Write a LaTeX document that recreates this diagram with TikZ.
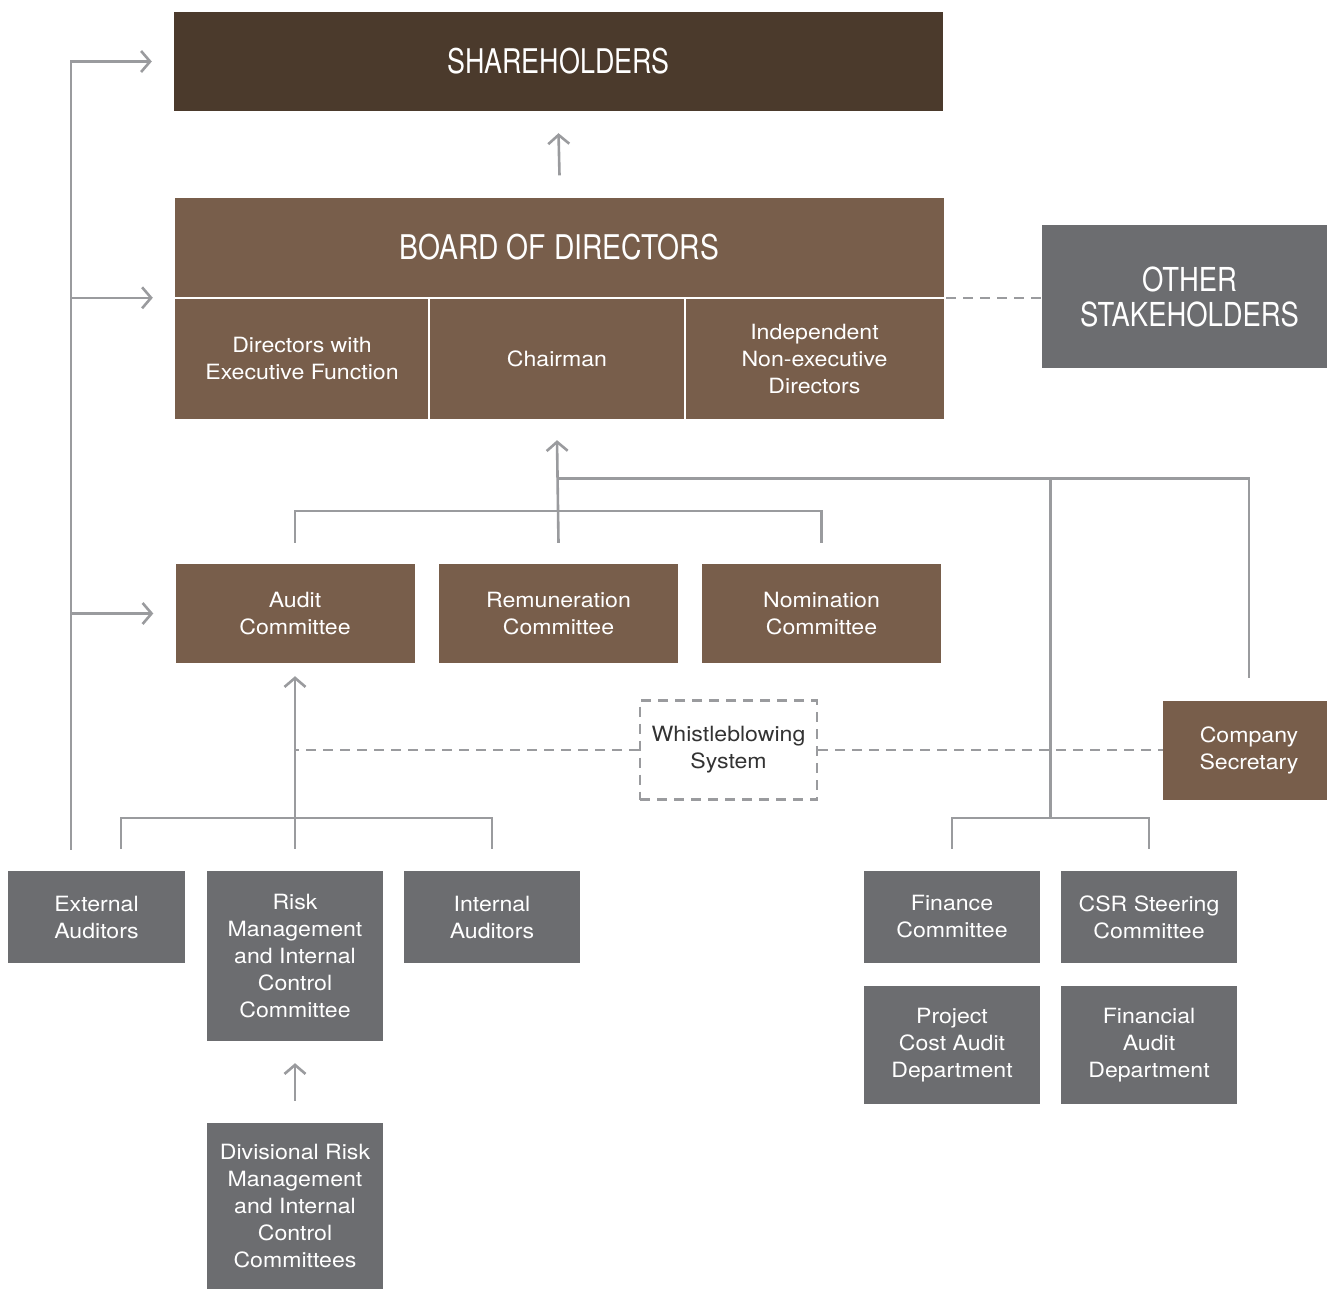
\documentclass[tikz,border=0pt]{standalone}
\usepackage{fontspec}
\setmainfont{TeX Gyre Heros}
\newfontfamily\condf[FakeStretch=0.79]{TeX Gyre Heros}
\newfontfamily\condg[FakeStretch=0.83]{TeX Gyre Heros}
\newfontfamily\widef[FakeStretch=1.1]{TeX Gyre Heros}
\usetikzlibrary{arrows.meta,calc}
\definecolor{darkbrown}{HTML}{4B3A2C}
\definecolor{midbrown}{HTML}{785E4B}
\definecolor{boxgray}{HTML}{6C6D70}
\definecolor{linegray}{HTML}{9A9B9E}
\definecolor{txtgray}{HTML}{333333}
\tikzset{
  box/.style={rectangle, inner sep=0pt, align=center, text=white,
    font=\widef\fontsize{21}{27}\selectfont},
  brownbox/.style={box, fill=midbrown},
  graybox/.style={box, fill=boxgray},
  headbox/.style={rectangle, inner sep=0pt, align=center, text=white,
    font=\condf\fontsize{34}{35}\selectfont},
  conn/.style={draw=linegray, line width=2.6pt},
  arr/.style={conn, -{Straight Barb[length=9pt,width=21pt]}},
  dashconn/.style={draw=linegray, line width=2.4pt, dash pattern=on 10pt off 7pt},
}
\begin{document}
\begin{tikzpicture}[x=1pt,y=-1pt]
\useasboundingbox (0,0) rectangle (1327,1288);

% top
\node[headbox, fill=darkbrown, minimum width=769pt, minimum height=99pt] (sh) at (558.5,61.5) {SHAREHOLDERS};
\node[headbox, fill=midbrown, minimum width=769pt, minimum height=100pt, font=\condg\fontsize{34}{35}\selectfont] (bod) at (559.5,247.5) {BOARD OF DIRECTORS};
\node[brownbox, minimum width=254pt, minimum height=121pt] (c1) at (302,358.5) {Directors with\\Executive Function};
\node[brownbox, minimum width=256pt, minimum height=121pt] (c2) at (557,358.5) {Chairman};
\node[brownbox, minimum width=259pt, minimum height=121pt] (c3) at (814.5,358.5) {Independent\\Non-executive\\Directors};
\draw[white, line width=2pt] (c1.north west) -- (c3.north east);
\draw[white, line width=2.5pt] (c1.north east) -- (c1.south east);
\draw[white, line width=2.5pt] (c2.north east) -- (c2.south east);

\node[headbox, fill=boxgray, minimum width=295pt, minimum height=143pt, font=\condg\fontsize{33}{35}\selectfont] (os) at (1189.5,296.5) {OTHER\\STAKEHOLDERS};

% committees
\node[brownbox, minimum width=239pt, minimum height=99pt] (audit) at (295,613.5) {Audit\\Committee};
\node[brownbox, minimum width=239pt, minimum height=99pt] (rem) at (558.5,613.5) {Remuneration\\Committee};
\node[brownbox, minimum width=239pt, minimum height=99pt] (nom) at (821.5,613.5) {Nomination\\Committee};

\node[box, text=txtgray, minimum width=177pt, minimum height=99pt, draw=linegray, line width=2.4pt, dash pattern=on 10pt off 7pt] (wb) at (728.5,750) {Whistleblowing\\System};
\node[brownbox, minimum width=172pt, minimum height=99pt] (cosec) at (1249,750) {Company\\Secretary};

% lower
\node[graybox, minimum width=177pt, minimum height=92pt] (ext) at (96.5,917) {External\\Auditors};
\node[graybox, minimum width=176pt, minimum height=170pt] (risk) at (295,956) {Risk\\Management\\and Internal\\Control\\Committee};
\node[graybox, minimum width=176pt, minimum height=92pt] (int) at (492,917) {Internal\\Auditors};
\node[graybox, minimum width=176pt, minimum height=167pt] (div) at (295,1206.5) {Divisional Risk\\Management\\and Internal\\Control\\Committees};

\node[graybox, minimum width=176pt, minimum height=92pt] (fin) at (952,917) {Finance\\Committee};
\node[graybox, minimum width=176pt, minimum height=92pt] (csr) at (1149,917) {CSR Steering\\Committee};
\node[graybox, minimum width=176pt, minimum height=118pt] (pca) at (952,1045) {Project\\Cost Audit\\Department};
\node[graybox, minimum width=176pt, minimum height=118pt] (fad) at (1149,1045) {Financial\\Audit\\Department};

% connectors
\draw[arr] ([yshift=22pt]bod.north) -- ([yshift=-22pt]sh.south);

\coordinate (eb) at ([xshift=-25.5pt,yshift=21pt]ext.north);
\draw[arr] (eb) |- ([xshift=-22pt]sh.west);
\draw[arr] (eb |- c1.north west) -- ([xshift=-22pt]c1.north west);
\draw[arr] (eb |- audit.west) -- ([xshift=-22pt]audit.west);

\draw[conn] ([yshift=21pt]audit.north) |- ([yshift=53pt]nom.north) -- ([yshift=21pt]nom.north);
\draw[arr] ([yshift=21pt]rem.north) -- ([yshift=-21pt]c2.south);
\coordinate (j1) at ([yshift=-59pt]c2.south);
\draw[conn] (j1) -| ([yshift=22pt]cosec.north);

\coordinate (fc) at ($(fin.north)!0.5!(csr.north)+(0,-53)$);
\draw[conn] ([yshift=22pt]fin.north) |- ([yshift=53pt]csr.north) -- ([yshift=22pt]csr.north);
\draw[conn] (fc) -- (fc |- j1);

\draw[conn] ([xshift=24.5pt,yshift=22pt]ext.north) |- ([yshift=53pt]int.north) -- ([yshift=22pt]int.north);
\draw[arr] ([yshift=22pt]risk.north) -- ([yshift=-13pt]audit.south);
\draw[arr] ([yshift=22pt]div.north) -- ([yshift=-22pt]risk.south);

\draw[dashconn] (wb.west) -- (wb.west -| risk.north);
\draw[dashconn] (wb.east) -- (cosec.west);
\draw[dashconn] ([xshift=2pt]c3.north east) -- (c3.north east -| os.west);
\end{tikzpicture}
\end{document}
